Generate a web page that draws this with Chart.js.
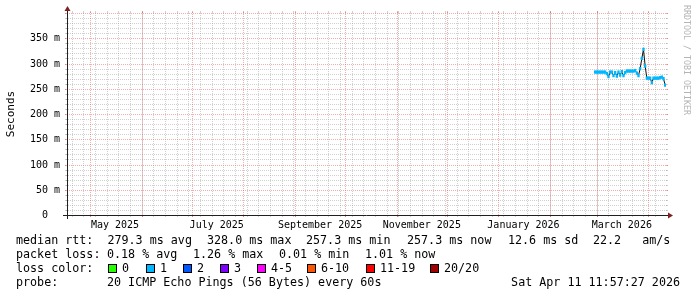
<!DOCTYPE html>
<html><head><meta charset="utf-8">
<script src="https://cdn.jsdelivr.net/npm/chart.js@4/dist/chart.umd.min.js"></script>
<style>html,body{margin:0;padding:0;background:#fff}</style>
</head><body>
<canvas id="c" width="697" height="297"></canvas>
<script>
// ---------- data ----------
const dates = ['2026-02-28','2026-03-01','2026-03-02','2026-03-03','2026-03-04','2026-03-05','2026-03-06','2026-03-07','2026-03-08','2026-03-09','2026-03-10','2026-03-11','2026-03-12','2026-03-13','2026-03-14','2026-03-15','2026-03-16','2026-03-17','2026-03-18','2026-03-19','2026-03-20','2026-03-21','2026-03-22','2026-03-23','2026-03-24','2026-03-25','2026-03-26','2026-03-27','2026-03-28','2026-03-29','2026-03-30','2026-03-31','2026-04-01','2026-04-02','2026-04-03','2026-04-04','2026-04-05','2026-04-06','2026-04-07','2026-04-08','2026-04-09','2026-04-10','2026-04-11'];
const medianMs = [283,283,283,283,283,283,283,280,274,283,283,276,282,275,283,277,284,276,282,285,285,285,285,285,286,281,276,290,310,328,295,271,271,271,262,271,271,271,271,272,273,270,257];
const yTicks = [0,50,100,150,200,250,300,350];
const yMax = 400;
const monthLabels = ['May 2025','July 2025','September 2025','November 2025','January 2026','March 2026'];
const monthLabelDates = ['2025-05-01','2025-07-01','2025-09-01','2025-11-01','2026-01-01','2026-03-01'];
const endTime = Date.UTC(2026,3,11,11,57,27);
const spanDays = 359.3;
const statsRow1 = ['median rtt:  279.3 ms avg','328.0 ms max','257.3 ms min','257.3 ms now','12.6 ms sd','22.2   am/s'];
const statsRow2 = ['packet loss:','0.18 % avg','1.26 % max','0.01 % min','1.01 % now'];
const lossLabels = ['0','1','2','3','4-5','6-10','11-19','20/20'];
const lossColors = ['#26ff00','#00b8ff','#0059ff','#7e00ff','#ff00ff','#ff5500','#ff0000','#a10000'];
const probeText = ['probe:','20 ICMP Echo Pings (56 Bytes) every 60s','Sat Apr 11 11:57:27 2026'];

// ---------- layout / style ----------
const DAY = 864e5;
const MONO = '"DejaVu Sans Mono", monospace';
const COL_GRID = 'rgba(150,150,150,0.45)';
const COL_MGRID = 'rgba(222,79,79,0.45)';
const COL_AXIS = '#1f1f1f';
const COL_ARROW = 'rgb(128,31,31)';
const MEDW = 2.6; // half thickness of median band, in ms
const t = s => Date.parse(s);

const row1X = [16,207,306,407,508,593];
const row2X = [16,107,193,279,365];
const swatchX = [108,146,183,220,257,307,366,430];

const rrdPlugin = {
  id: 'rrd',
  beforeDatasetsDraw(chart) {
    const {ctx, scales: {x, y}, chartArea: a} = chart;
    const X0 = Math.round(a.left), X1 = Math.round(a.right), Y0 = Math.round(a.bottom), Y1 = Math.round(a.top);
    ctx.save();
    ctx.lineWidth = 1;
    const hline = (x0, x1, py, col, dash) => { ctx.strokeStyle = col; ctx.setLineDash(dash); ctx.beginPath(); ctx.moveTo(x0, py); ctx.lineTo(x1, py); ctx.stroke(); };
    const vline = (px, y0, y1, col, dash) => { ctx.strokeStyle = col; ctx.setLineDash(dash); ctx.beginPath(); ctx.moveTo(px, y0); ctx.lineTo(px, y1); ctx.stroke(); };
    // horizontal grid
    for (let v = 10; v <= yMax; v += 10) {
      const py = Math.round(y.getPixelForValue(v)) + 0.5;
      const major = v % 50 === 0;
      const c = major ? COL_MGRID : COL_GRID;
      hline(X0 - 2, X0, py, c, []);
      hline(X1, X1 + 2, py, c, []);
      hline(major ? X0 - 2 : X0 - 1, major ? X1 + 2 : X1 + 1, py, c, [1, 1]);
    }
    // vertical minor grid (weeks, Sundays)
    const xmin = x.min, xmax = x.max;
    let d = new Date(xmin); d.setUTCHours(0,0,0,0);
    while (d.getUTCDay() !== 0) d = new Date(d.getTime() + DAY);
    for (let tt = d.getTime(); tt <= xmax; tt += 7 * DAY) {
      const px = Math.round(x.getPixelForValue(tt)) + 0.5;
      vline(px, Y0, Y0 + 2, COL_GRID, []);
      vline(px, Y1 - 2, Y1, COL_GRID, []);
      vline(px, Y0 + 1, Y1 - 1, COL_GRID, [1, 1]);
    }
    // vertical major grid (months)
    const s = new Date(xmin);
    for (let yy = s.getUTCFullYear(), mm = s.getUTCMonth() + 1; ; mm++) {
      const tt = Date.UTC(yy, mm, 1);
      if (tt > xmax) break;
      const px = Math.round(x.getPixelForValue(tt)) + 0.5;
      vline(px, Y0, Y0 + 2, COL_MGRID, []);
      vline(px, Y1 - 2, Y1, COL_MGRID, []);
      vline(px, Y0 + 2, Y1 - 2, COL_MGRID, [1, 1]);
    }
    ctx.restore();
  },
  afterDatasetsDraw(chart) {
    const {ctx, scales: {x, y}, chartArea: a} = chart;
    const X0 = Math.round(a.left), X1 = Math.round(a.right), Y0 = Math.round(a.bottom), Y1 = Math.round(a.top);
    ctx.save();
    ctx.setLineDash([]);
    ctx.lineWidth = 1;
    ctx.strokeStyle = COL_AXIS;
    ctx.beginPath();
    ctx.moveTo(X0 - 4, Y0 + 0.5); ctx.lineTo(X1 + 4, Y0 + 0.5);
    ctx.moveTo(X0 + 0.5, Y0 + 4); ctx.lineTo(X0 + 0.5, Y1 - 4);
    ctx.stroke();
    ctx.fillStyle = COL_ARROW;
    ctx.beginPath();
    ctx.moveTo(X1 + 2, Y0 + 0.5 - 3); ctx.lineTo(X1 + 2, Y0 + 0.5 + 3); ctx.lineTo(X1 + 7, Y0 + 0.5); ctx.closePath(); ctx.fill();
    ctx.beginPath();
    ctx.moveTo(X0 + 0.5 - 3, Y1 - 2); ctx.lineTo(X0 + 0.5 + 3, Y1 - 2); ctx.lineTo(X0 + 0.5, Y1 - 7); ctx.closePath(); ctx.fill();

    ctx.fillStyle = '#000';
    // y tick labels
    ctx.font = '10px ' + MONO;
    ctx.textAlign = 'right'; ctx.textBaseline = 'middle';
    yTicks.forEach(v => {
      const py = Math.round(y.getPixelForValue(v)) + 0.5;
      ctx.fillText(v === 0 ? '0  ' : v + ' m', X0 - 7, py);
    });
    // x labels (centered mid-month)
    ctx.textAlign = 'center';
    monthLabels.forEach((lab, i) => {
      const px = x.getPixelForValue(t(monthLabelDates[i]) + 15 * DAY);
      ctx.fillText(lab, px, Y0 + 10);
    });
    // y title
    ctx.save();
    ctx.font = '11px ' + MONO;
    ctx.translate(11, (Y0 + Y1) / 2);
    ctx.rotate(-Math.PI / 2);
    ctx.fillText('Seconds', 0, 0);
    ctx.restore();
    // watermark
    ctx.save();
    ctx.font = '8.3px ' + MONO;
    ctx.fillStyle = '#b4b4b4';
    ctx.textAlign = 'left';
    ctx.translate(686, 5);
    ctx.rotate(Math.PI / 2);
    ctx.fillText('RRDTOOL / TOBI OETIKER', 0, 0);
    ctx.restore();
    // legend rows
    ctx.font = '11.7px ' + MONO;
    ctx.textAlign = 'left';
    ctx.fillStyle = '#000';
    statsRow1.forEach((s, i) => ctx.fillText(s, row1X[i], 241));
    statsRow2.forEach((s, i) => ctx.fillText(s, row2X[i], 255));
    ctx.fillText('loss color:', 16, 268.5);
    lossLabels.forEach((lab, i) => {
      ctx.fillStyle = lossColors[i];
      ctx.fillRect(swatchX[i], 264, 9, 9);
      ctx.strokeStyle = '#000';
      ctx.strokeRect(swatchX[i] + 0.5, 264.5, 8, 8);
      ctx.fillStyle = '#000';
      ctx.fillText(lab, swatchX[i] + 14, 268.5);
    });
    ctx.fillText(probeText[0], 16, 282.5);
    ctx.fillText(probeText[1], 107, 282.5);
    ctx.textAlign = 'right';
    ctx.fillText(probeText[2], 680, 282.5);
    ctx.restore();
  }
};

new Chart(document.getElementById('c'), {
  type: 'line',
  data: {
    datasets: [
      {
        type: 'line', label: 'median (line)',
        data: dates.map((d, i) => ({x: t(d), y: medianMs[i]})),
        borderColor: '#101010', borderWidth: 1, pointRadius: 0, tension: 0, order: 2
      },
      {
        type: 'bar', label: 'median',
        data: dates.map((d, i) => ({x: t(d), y: [medianMs[i] - MEDW, medianMs[i] + MEDW]})),
        backgroundColor: '#00b8ff', borderWidth: 0, barPercentage: 1, categoryPercentage: 1, order: 1
      }
    ]
  },
  options: {
    responsive: false, animation: false, devicePixelRatio: 1,
    layout: {padding: {left: 67, right: 31, top: 13, bottom: 82}},
    plugins: {legend: {display: false}, tooltip: {enabled: false}},
    events: [],
    scales: {
      x: {type: 'linear', display: false, offset: false, min: endTime - spanDays * DAY, max: endTime},
      y: {type: 'linear', display: false, min: 0, max: yMax}
    }
  },
  plugins: [rrdPlugin]
});
</script>
</body></html>
